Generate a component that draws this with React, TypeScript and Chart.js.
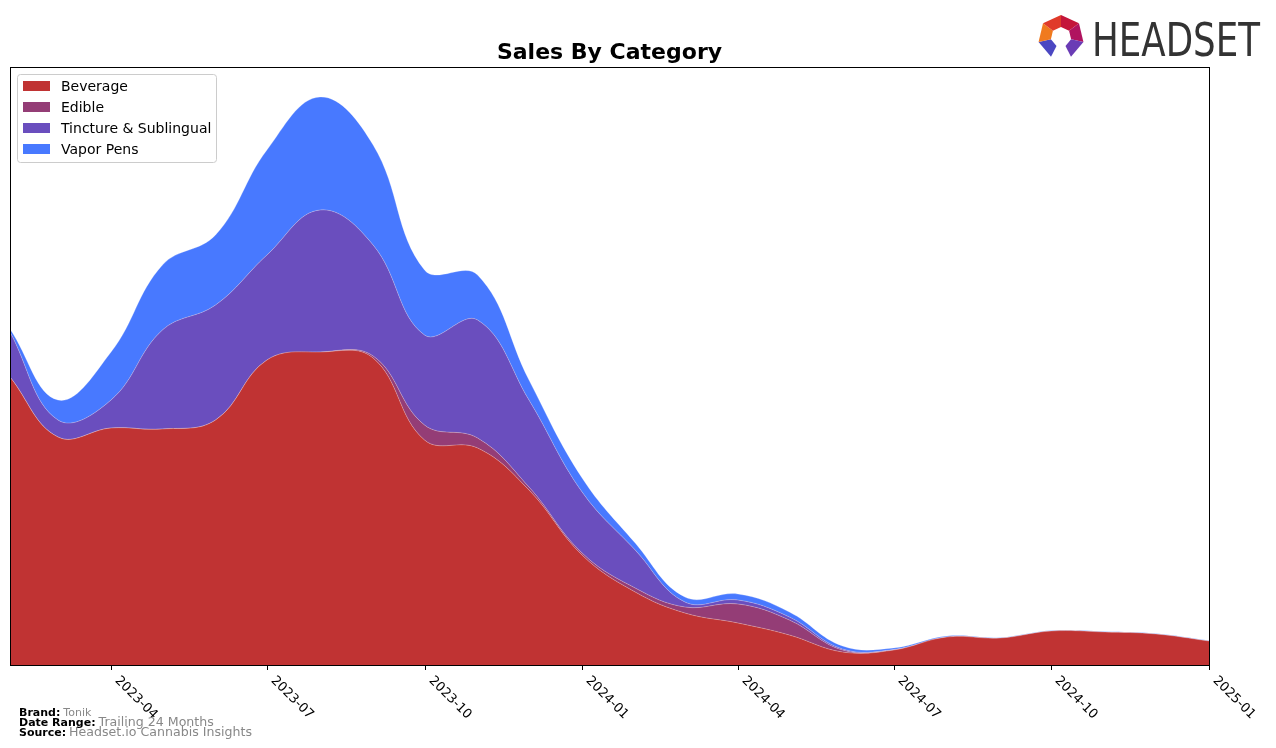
import React, { useEffect, useRef } from "react";
import { Chart, registerables } from "chart.js";

Chart.register(...registerables);

const months = [
  "2023-02", "2023-03", "2023-04", "2023-05", "2023-06", "2023-07", "2023-08", "2023-09",
  "2023-10", "2023-11", "2023-12", "2024-01", "2024-02", "2024-03", "2024-04", "2024-05",
  "2024-06", "2024-07", "2024-08", "2024-09", "2024-10", "2024-11", "2024-12", "2025-01",
];
const beverage = [288, 228, 237, 236, 245, 305, 313, 307, 225, 217, 175, 110, 73, 52, 42, 30, 13, 15, 28, 27, 34, 33, 31, 24];
const edible = [0, 0, 0, 0, 0, 0, 0, 2, 15, 10, 3, 2, 4, 6, 19, 15, 2, 0, 0, 0, 0, 0, 0, 0];
const tincture = [45, 17, 28, 99, 115, 105, 142, 111, 90, 118, 87, 61, 38, 5, 4, 3, 1, 0.5, 0, 0, 0, 0, 0, 0];
const vapor = [3, 20, 48, 65, 70, 105, 113, 100, 65, 45, 20, 14, 7, 5, 6, 5, 3, 1.5, 1, 0.5, 0.5, 0.5, 0.5, 0.5];
const tickLabels = ["2023-04", "2023-07", "2023-10", "2024-01", "2024-04", "2024-07", "2024-10", "2025-01"];
const seriesNames = ["Beverage", "Edible", "Tincture & Sublingual", "Vapor Pens"];
const seriesColors = ["#C03333", "#943D76", "#6A4EBE", "#4879FF"];

const dayOf = (m: string) =>
  (Date.UTC(+m.slice(0, 4), +m.slice(5, 7) - 1, 1) - Date.UTC(2023, 1, 1)) / 86400000;

const FONT = "'DejaVu Sans', sans-serif";

const decorPlugin = {
  id: "decor",
  afterDatasetsDraw(chart: any) {
    const ctx: CanvasRenderingContext2D = chart.ctx;
    const area = chart.chartArea;
    const xs = chart.scales.x;
    ctx.save();
    // frame
    ctx.strokeStyle = "#000";
    ctx.lineWidth = 1;
    ctx.strokeRect(Math.round(area.left) + 0.5, Math.round(area.top) + 0.5,
      Math.round(area.right - area.left), Math.round(area.bottom - area.top));
    // ticks + labels
    ctx.fillStyle = "#000";
    ctx.font = `13px ${FONT}`;
    for (const t of tickLabels) {
      const px = Math.round(xs.getPixelForValue(dayOf(t))) + 0.5;
      ctx.beginPath();
      ctx.moveTo(px, area.bottom);
      ctx.lineTo(px, area.bottom + 5);
      ctx.stroke();
      ctx.save();
      ctx.translate(px + 10, area.bottom + 9);
      ctx.rotate(Math.PI / 4);
      ctx.textAlign = "left";
      ctx.textBaseline = "top";
      ctx.fillText(t, 0, 0);
      ctx.restore();
    }
    // title
    ctx.font = `bold 22px ${FONT}`;
    ctx.textAlign = "center";
    ctx.textBaseline = "alphabetic";
    ctx.fillText("Sales By Category", (area.left + area.right) / 2, 59);
    // legend
    const lx = 17, ly = 74, lw = 199, lh = 88;
    ctx.fillStyle = "rgba(255,255,255,0.85)";
    ctx.strokeStyle = "#cccccc";
    ctx.beginPath();
    ctx.roundRect(lx + 0.5, ly + 0.5, lw, lh, 3);
    ctx.fill();
    ctx.stroke();
    ctx.font = `14px ${FONT}`;
    ctx.textAlign = "left";
    ctx.textBaseline = "middle";
    seriesNames.forEach((n, i) => {
      const cy = 86 + i * 21;
      ctx.fillStyle = seriesColors[i];
      ctx.fillRect(23, cy - 5, 27, 10);
      ctx.fillStyle = "#000";
      ctx.fillText(n, 61, cy + 1);
    });
    // footer
    const foot = [
      ["Brand:", "Tonik", 11],
      ["Date Range:", "Trailing 24 Months", 12.6],
      ["Source:", "Headset.io Cannabis Insights", 12.6],
    ] as [string, string, number][];
    ctx.textBaseline = "alphabetic";
    foot.forEach(([k, v, s], i) => {
      const by = 716 + i * 10;
      ctx.font = `bold 11px ${FONT}`;
      ctx.fillStyle = "#000";
      ctx.fillText(k, 19, by);
      const w = ctx.measureText(k).width;
      ctx.font = `${s}px ${FONT}`;
      ctx.fillStyle = "#888";
      ctx.fillText(v, 19 + w + 3, by);
    });
    // logo
    const cx = 1061, cyy = 37;
    const pts: [number, number][] = [];
    for (let k = 0; k < 7; k++) {
      const a = -Math.PI / 2 + (k * 2 * Math.PI) / 7;
      pts.push([cx + 23 * Math.cos(a), cyy + 22 * Math.sin(a)]);
    }
    const inner: [number, number][] = pts.map(([x, y]) => [cx + (x - cx) * 0.45, cyy + (y - cyy) * 0.45]);
    const segCols = ["#C4153A", "#B0135F", "#6A3CB5", "#3A3A9E", "#4B47C2", "#F07A1E", "#E03A2A"];
    for (let k = 0; k < 7; k++) {
      if (k === 3) continue;
      const a = pts[k], b = pts[(k + 1) % 7], c = inner[(k + 1) % 7], d = inner[k];
      ctx.fillStyle = segCols[k];
      ctx.beginPath();
      ctx.moveTo(a[0], a[1]);
      ctx.lineTo(b[0], b[1]);
      ctx.lineTo(c[0], c[1]);
      ctx.lineTo(d[0], d[1]);
      ctx.closePath();
      ctx.fill();
    }
    ctx.save();
    ctx.fillStyle = "#333";
    ctx.font = `46px ${FONT}`;
    const tw = ctx.measureText("HEADSET").width;
    ctx.translate(1092, 56);
    ctx.scale(168 / tw, 1);
    ctx.textAlign = "left";
    ctx.fillText("HEADSET", 0, 0);
    ctx.restore();
    ctx.restore();
  },
};

export default function App() {
  const ref = useRef<HTMLCanvasElement | null>(null);
  useEffect(() => {
    if (!ref.current) return;
    const series = [beverage, edible, tincture, vapor];
    const chart = new Chart(ref.current, {
      type: "line",
      data: {
        datasets: series.map((vals, i) => ({
          label: seriesNames[i],
          data: months.map((m, j) => ({ x: dayOf(m), y: vals[j] })),
          backgroundColor: seriesColors[i],
          borderColor: "rgba(255,255,255,0.25)",
          borderWidth: 1,
          fill: i === 0 ? "origin" : "-1",
          pointRadius: 0,
          tension: 0.4,
        })),
      },
      options: {
        animation: false,
        responsive: false,
        maintainAspectRatio: false,
        layout: { padding: { left: 10, top: 67, right: 67, bottom: 83 } },
        plugins: { legend: { display: false }, title: { display: false }, tooltip: { enabled: false } },
        scales: {
          x: { type: "linear", display: false, min: 0, max: dayOf("2025-01") },
          y: { display: false, stacked: true, min: 0, max: 598 },
        },
      },
      plugins: [decorPlugin],
    });
    return () => chart.destroy();
  }, []);
  return (
    <div style={{ position: "fixed", left: 0, top: 0, width: 1276, height: 748, background: "#fff" }}>
      <canvas ref={ref} width={1276} height={748} style={{ width: 1276, height: 748 }} />
    </div>
  );
}
